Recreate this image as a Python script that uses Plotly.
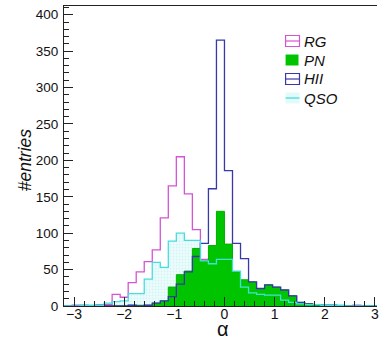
import numpy as np
import plotly.graph_objects as go

# ---------------- data (40 bins of width 0.16 from -3.2 to 3.2) ----------------
bin_lo = -3.2
bin_w = 0.16
RG = [0, 1, 1, 0, 1, 2, 16, 12, 32, 47, 61, 77, 121, 165, 205, 154, 105, 64, 45, 32,
      22, 15, 10, 7, 5, 4, 3, 2, 2, 1, 1, 1, 0, 0, 0, 0, 1, 0, 0, 0]
PN = [0, 0, 0, 0, 0, 0, 0, 0, 1, 1, 1, 4, 7, 26, 43, 48, 79, 62, 83, 130,
      85, 47, 36, 33, 24, 29, 26, 22, 14, 5, 3, 2, 1, 1, 0, 0, 0, 0, 0, 0]
HII = [0, 0, 0, 0, 1, 0, 0, 0, 1, 0, 1, 4, 7, 13, 30, 47, 68, 86, 161, 365,
       186, 86, 65, 33, 24, 29, 26, 22, 14, 5, 3, 2, 1, 1, 0, 0, 0, 0, 0, 0]
QSO = [0, 0, 1, 1, 1, 4, 6, 7, 17, 17, 37, 60, 53, 89, 100, 90, 90, 62, 58, 64,
       64, 48, 26, 18, 16, 15, 15, 8, 5, 3, 2, 2, 1, 1, 1, 0, 0, 0, 0, 0]
legend_names = ["RG", "PN", "HII", "QSO"]
x_ticks = [-3, -2, -1, 0, 1, 2, 3]
y_ticks = [0, 50, 100, 150, 200, 250, 300, 350, 400]

C_RG = "#d455d4"
C_PN = "#00c400"
C_HII = "#3838a8"
C_QSO = "#45dede"

edges = bin_lo + bin_w * np.arange(len(RG) + 1)


def step_xy(vals):
    xs = [edges[0]] + list(edges[:-1]) + [edges[-1]]
    ys = [0] + list(vals) + [0]
    return xs, ys


W, H = 379, 342
L, R, T, B = 64, 0, 6, 36
x_range = [-3.2, 3.2 - 8 / 50.47]
y_range = [0, 412]

fig = go.Figure()

# QSO dotted fill (underneath)
xs, ys = step_xy(QSO)
fig.add_trace(go.Scatter(x=xs, y=ys, mode="lines", line=dict(width=0, shape="hv", color=C_QSO),
                         fill="tozeroy", fillcolor="rgba(215,250,250,0.5)",
                         fillpattern=dict(shape=".", size=3, solidity=0.3,
                                          fgcolor="rgba(110,220,220,0.45)", bgcolor="rgba(232,252,252,0.7)"),
                         hoverinfo="skip", showlegend=False))
# RG outline
xs, ys = step_xy(RG)
fig.add_trace(go.Scatter(x=xs, y=ys, mode="lines", line=dict(width=1.3, shape="hv", color=C_RG),
                         showlegend=False))
# PN filled
xs, ys = step_xy(PN)
fig.add_trace(go.Scatter(x=xs, y=ys, mode="lines", line=dict(width=1, shape="hv", color="#00b000"),
                         fill="tozeroy", fillcolor=C_PN, showlegend=False))
# HII outline
xs, ys = step_xy(HII)
fig.add_trace(go.Scatter(x=xs, y=ys, mode="lines", line=dict(width=1.3, shape="hv", color=C_HII),
                         showlegend=False))
# QSO outline
xs, ys = step_xy(QSO)
fig.add_trace(go.Scatter(x=xs, y=ys, mode="lines", line=dict(width=1.3, shape="hv", color=C_QSO),
                         showlegend=False))

pw = W - L - R
ph = H - T - B


def px(xp):
    return (xp - L) / pw


def py(yp):
    return (H - B - yp) / ph


shapes = []
annotations = []
rows = [41, 60, 79, 98]
bx0, bx1 = 287, 301
for name, yc in zip(legend_names, rows):
    y0, y1 = yc - 5.5, yc + 5.5
    if name in ("RG", "HII"):
        col = C_RG if name == "RG" else C_HII
        shapes.append(dict(type="rect", xref="paper", yref="paper", x0=px(bx0), x1=px(bx1),
                           y0=py(y1), y1=py(y0), line=dict(color=col, width=1.2), fillcolor="rgba(0,0,0,0)"))
        shapes.append(dict(type="line", xref="paper", yref="paper", x0=px(bx0), x1=px(bx1),
                           y0=py(yc), y1=py(yc), line=dict(color=col, width=1.2)))
    elif name == "PN":
        shapes.append(dict(type="rect", xref="paper", yref="paper", x0=px(bx0), x1=px(bx1 - 1),
                           y0=py(y1), y1=py(y0), line=dict(width=0), fillcolor=C_PN))
    else:
        shapes.append(dict(type="rect", xref="paper", yref="paper", x0=px(bx0), x1=px(bx1),
                           y0=py(y1), y1=py(y0), line=dict(width=0), fillcolor="rgba(215,248,248,0.7)"))
        shapes.append(dict(type="line", xref="paper", yref="paper", x0=px(bx0), x1=px(bx1),
                           y0=py(yc), y1=py(yc), line=dict(color=C_QSO, width=1.3)))
    annotations.append(dict(xref="paper", yref="paper", x=px(304), y=py(yc), xanchor="left", yanchor="middle",
                            text="<i>" + name + "</i>", showarrow=False,
                            font=dict(family="Liberation Sans", size=15, color="#111111")))

# axis titles
annotations.append(dict(xref="paper", yref="paper", x=px(25), y=py(160), text="<i>#entries</i>",
                        textangle=-90, showarrow=False, xanchor="center", yanchor="middle",
                        font=dict(family="Liberation Sans", size=17.5, color="#111111")))
annotations.append(dict(xref="paper", yref="paper", x=px(224), y=py(342), text="α",
                        showarrow=False, xanchor="center", yanchor="bottom",
                        font=dict(family="Liberation Sans", size=20, color="#111111")))

fig.update_layout(
    width=W, height=H,
    margin=dict(l=L, r=R, t=T, b=B, pad=0),
    paper_bgcolor="white", plot_bgcolor="white",
    showlegend=False,
    shapes=shapes, annotations=annotations,
    xaxis=dict(range=x_range, tickmode="array", tickvals=x_ticks, ticks="inside", ticklen=9,
               tickcolor="#222", tickwidth=1, showline=True, linecolor="#222", linewidth=1,
               mirror=True, showgrid=False, zeroline=False, ticklabeloverflow="allow",
               minor=dict(ticks="inside", dtick=0.2, ticklen=5, tickcolor="#222", showgrid=False),
               tickfont=dict(family="Liberation Sans", size=14, color="#111111"), ticklabelstandoff=-5),
    yaxis=dict(range=y_range, tickmode="array", tickvals=y_ticks, ticks="inside", ticklen=9,
               tickcolor="#222", tickwidth=1, showline=True, linecolor="#222", linewidth=1,
               mirror=False, showgrid=False, zeroline=False,
               minor=dict(ticks="inside", dtick=10, ticklen=5, tickcolor="#222", showgrid=False),
               tickfont=dict(family="Liberation Sans", size=13.5, color="#111111"), ticklabelstandoff=2),
)

fig.write_html("out.html")
